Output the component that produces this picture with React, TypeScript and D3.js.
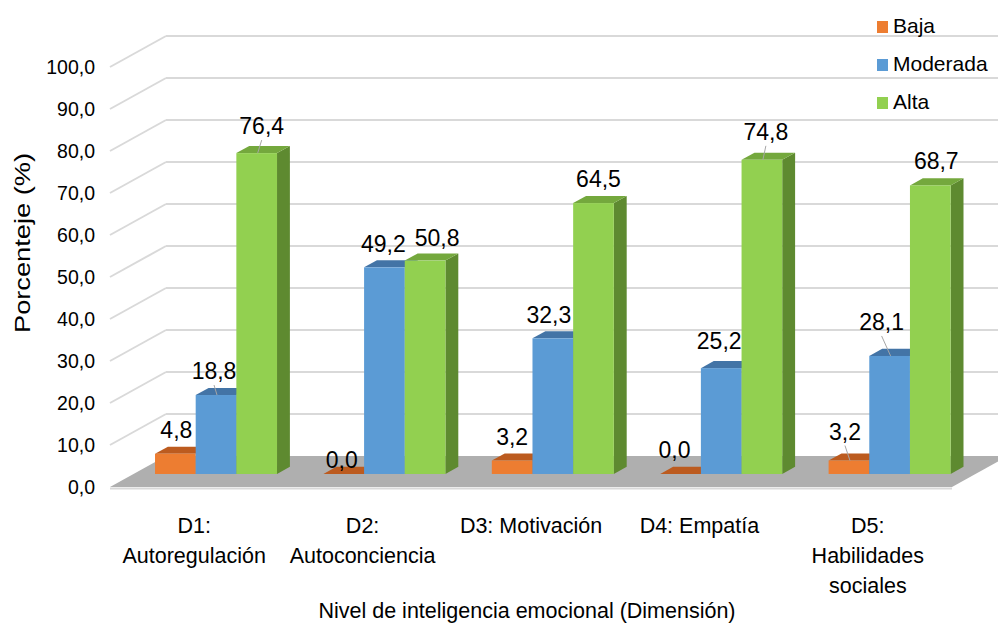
import React from 'react';
import * as d3 from 'd3';

const categories = ['D1: Autoregulación', 'D2: Autoconciencia', 'D3: Motivación', 'D4: Empatía', 'D5: Habilidades sociales'];
const seriesNames = ['Baja', 'Moderada', 'Alta'];
const baja = [4.8, 0.0, 3.2, 0.0, 3.2];
const moderada = [18.8, 49.2, 32.3, 25.2, 28.1];
const alta = [76.4, 50.8, 64.5, 74.8, 68.7];
const yTickValues = [0, 10, 20, 30, 40, 50, 60, 70, 80, 90, 100];

// colours: front, top, side
const palette = [
  { front: '#ED7D31', top: '#BC5B1F', side: '#A94F17' },
  { front: '#5B9BD5', top: '#4374A6', side: '#3A6591' },
  { front: '#92D050', top: '#74A83D', side: '#5E8A30' },
];

// label nudges [dx, dy] per series/category (layout only)
const labelNudge = [
  [[1, 0], [-2, 10], [0, 0], [-6, 0], [-4, -5]],
  [[-2, 0], [-1, 0], [-4, 0], [-2, -3], [-8, -10]],
  [[5, -3], [12, 1], [5, 0], [4, -4], [6, -1]],
];
const leaders = [
  [false, false, false, false, true],
  [true, false, false, false, true],
  [true, false, false, true, false],
];

const W = 998;
const H = 626;
const FONT = '"Liberation Sans", Arial, sans-serif';

const DX = 56; // depth offset of back wall
const DY = -31;
const barD0 = 0.42; // depth of bar front face
const barD1 = 0.65;

const fmt = d3.formatLocale({ decimal: ',', thousands: '.', grouping: [3], currency: ['', ''] }).format('.1f');

function wrap(text: string, width: number, font: string) {
  const ctx = document.createElement('canvas').getContext('2d')!;
  ctx.font = font;
  const words = text.split(' ');
  const lines: string[] = [];
  let cur = '';
  words.forEach((w) => {
    const t = cur ? cur + ' ' + w : w;
    if (cur && ctx.measureText(t).width > width) {
      lines.push(cur);
      cur = w;
    } else cur = t;
  });
  if (cur) lines.push(cur);
  return lines;
}

export default function App() {
  const x = d3.scaleBand<string>().domain(categories).range([110, 952]);
  const xs = d3.scaleBand<string>().domain(seriesNames).range([21.5, 143.5]);
  const y = d3.scaleLinear().domain([0, 100]).range([487, 67]);
  const values = [baja, moderada, alta];

  const pt = (px: number, py: number) => `${px},${py}`;

  const bars: React.ReactNode[] = [];
  const labels: React.ReactNode[] = [];
  categories.forEach((c, ci) => {
    values.forEach((vals, si) => {
      const v = vals[ci];
      const x0 = x(c)! + xs(seriesNames[si])! + barD0 * DX;
      const x1 = x0 + xs.bandwidth();
      const base = y(0) + barD0 * DY;
      const top = base - (y(0) - y(v));
      const ox = (barD1 - barD0) * DX;
      const oy = (barD1 - barD0) * DY;
      const col = palette[si];
      bars.push(
        <g key={`b-${ci}-${si}`}>
          <polygon points={[pt(x1, base), pt(x1 + ox, base + oy), pt(x1 + ox, top + oy), pt(x1, top)].join(' ')} fill={col.side} />
          <polygon points={[pt(x0, top), pt(x1, top), pt(x1 + ox, top + oy), pt(x0 + ox, top + oy)].join(' ')} fill={col.top} />
          {v > 0 && <rect x={x0} y={top} width={x1 - x0} height={base - top} fill={col.front} />}
        </g>
      );
      const fc = (x0 + x1) / 2;
      const [ndx, ndy] = labelNudge[si][ci];
      const lx = fc + ndx;
      const ly = top - 24 + ndy;
      if (leaders[si][ci]) {
        labels.push(<line key={`l-${ci}-${si}`} x1={lx} y1={ly + 14} x2={fc + 1} y2={top} stroke="#A6A6A6" strokeWidth={1} />);
      }
      labels.push(
        <text key={`t-${ci}-${si}`} x={lx} y={ly} dy="0.36em" textAnchor="middle" fontSize={23} fill="#000">
          {fmt(v)}
        </text>
      );
    });
  });

  const catFont = `21.5px ${FONT}`;

  return (
    <svg width={W} height={H} style={{ position: 'absolute', left: 0, top: 0, background: '#fff' }} fontFamily={FONT}>
      {/* gridlines on side and back wall */}
      {yTickValues.filter((t) => t > 0).map((t) => (
        <g key={`g-${t}`} stroke="#D9D9D9" strokeWidth={2} fill="none">
          <line x1={110} y1={y(t)} x2={110 + DX} y2={y(t) + DY} />
          <line x1={110 + DX} y1={y(t) + DY} x2={952 + DX} y2={y(t) + DY} />
        </g>
      ))}
      {/* floor */}
      <line x1={110} y1={y(0) + 1.5} x2={952} y2={y(0) + 1.5} stroke="#D9D9D9" strokeWidth={2} />
      <polygon points={[pt(110, y(0)), pt(952, y(0)), pt(952 + DX, y(0) + DY), pt(110 + DX, y(0) + DY)].join(' ')} fill="#AFAFAF" />
      {bars}
      {labels}
      {/* y ticks */}
      {yTickValues.map((t) => (
        <text key={`yt-${t}`} x={95} y={y(t)} dy="0.36em" textAnchor="end" fontSize={19.5} fill="#000">
          {fmt(t)}
        </text>
      ))}
      <text transform="translate(30,243) rotate(-90)" textAnchor="middle" fontSize={22} textLength={180} lengthAdjust="spacingAndGlyphs" fill="#000">
        Porcenteje (%)
      </text>
      {/* category labels */}
      {categories.map((c) => {
        const lines = wrap(c, 148, catFont);
        return (
          <text key={`c-${c}`} textAnchor="middle" fontSize={21.5} fill="#000">
            {lines.map((l, i) => (
              <tspan key={i} x={x(c)! + x.bandwidth() / 2} y={533 + i * 30}>
                {l}
              </tspan>
            ))}
          </text>
        );
      })}
      <text x={527} y={618} textAnchor="middle" fontSize={21.5} fill="#000">
        Nivel de inteligencia emocional (Dimensión)
      </text>
      {/* legend */}
      {seriesNames.map((s, i) => (
        <g key={`lg-${s}`} transform={`translate(877,${21 + i * 38})`}>
          <rect x={0} y={0} width={11} height={12} fill={palette[i].front} />
          <text x={16} y={12} fontSize={21} fill="#000">
            {s}
          </text>
        </g>
      ))}
    </svg>
  );
}
